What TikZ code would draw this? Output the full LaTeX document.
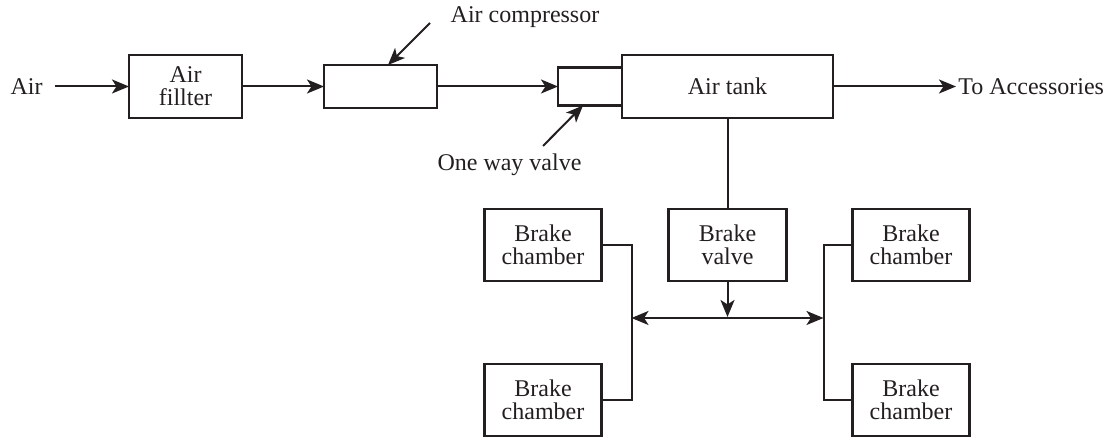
\documentclass[tikz,border=0pt]{standalone}
\usepackage{fontspec}
\setmainfont{Liberation Serif}
\usepackage{xcolor}
\usetikzlibrary{positioning,arrows.meta,calc}
\definecolor{ink}{RGB}{35,31,32}

\begin{document}
\begin{tikzpicture}[x=0.5pt, y=-0.5pt,
    >={Stealth[length=8.5pt, width=7pt, inset=2.2pt]},
    every node/.style={text=ink},
    box/.style={draw=ink, rectangle, line width=1.2pt, inner sep=0pt, outer sep=0pt, align=center, font=\fontsize{12}{11.5}\selectfont},
    chamberbox/.style={box, minimum width=58.5pt, minimum height=36pt},
    lbl/.style={inner sep=1pt, font=\fontsize{12}{11.5}\selectfont},
    arr/.style={->, line width=1pt, draw=ink},
    arrboth/.style={<->, line width=1pt, draw=ink},
    line/.style={line width=1pt, draw=ink},
]
\useasboundingbox (0,0) rectangle (1110,437);

% Supply line
\node[box, minimum width=56.5pt, minimum height=31.5pt] (filter) at (185.5,86.5) {Air\\fillter};
\node[lbl, inner xsep=6pt, left=37pt of filter] (air) {Air};
\node[box, minimum width=56.5pt, minimum height=21.5pt, right=41pt of filter] (comp) {};
\node[box, minimum width=32pt, minimum height=19pt, right=60.5pt of comp] (valve) {};
\node[box, minimum width=105.5pt, minimum height=31.5pt, right=0pt of valve] (tank) {Air tank};
\node[lbl, right=61.5pt of tank] (acc) {To Accessories};

% Callouts
\node[lbl] (complbl) at (525,17) {Air compressor};
\coordinate (comptail) at (430,23);
\node[lbl] (valvelbl) at (509.5,165) {One way valve};
\coordinate (valvetail) at (543,146);

% Brake circuit
\node[box, minimum width=59pt, minimum height=36pt, below=45.5pt of tank] (bvalve) {Brake\\valve};
\node[chamberbox, left=33.5pt of bvalve] (bcl1) {Brake\\chamber};
\node[chamberbox, right=33pt of bvalve] (bcr1) {Brake\\chamber};
\node[chamberbox, below=41.5pt of bcl1] (bcl2) {Brake\\chamber};
\node[chamberbox, below=41.5pt of bcr1] (bcr2) {Brake\\chamber};

\coordinate (split) at ([yshift=-18.5pt]bvalve.south);
\coordinate (lbus) at ([xshift=15pt]bcl1.east);
\coordinate (rbus) at ([xshift=-14.5pt]bcr1.west);

% Arrows
\draw[arr] (air) -- (filter);
\draw[arr] (filter) -- (comp);
\draw[arr] (comp) -- (valve);
\draw[arr] (tank) -- (acc);
\draw[arr] (comptail) -- ([xshift=3.75pt]comp.north);
\draw[arr] (valvetail) -- ([xshift=-3.5pt]valve.south);
\draw[line] (tank) -- (bvalve);
\draw[arr] (bvalve) -- ([yshift=0.5pt]split);
\draw[arrboth] (split -| lbus) -- (split -| rbus);
\draw[line] (bcl1.east) -- (lbus) |- (bcl2.east);
\draw[line] (bcr1.west) -- (rbus) |- (bcr2.west);
\end{tikzpicture}
\end{document}
